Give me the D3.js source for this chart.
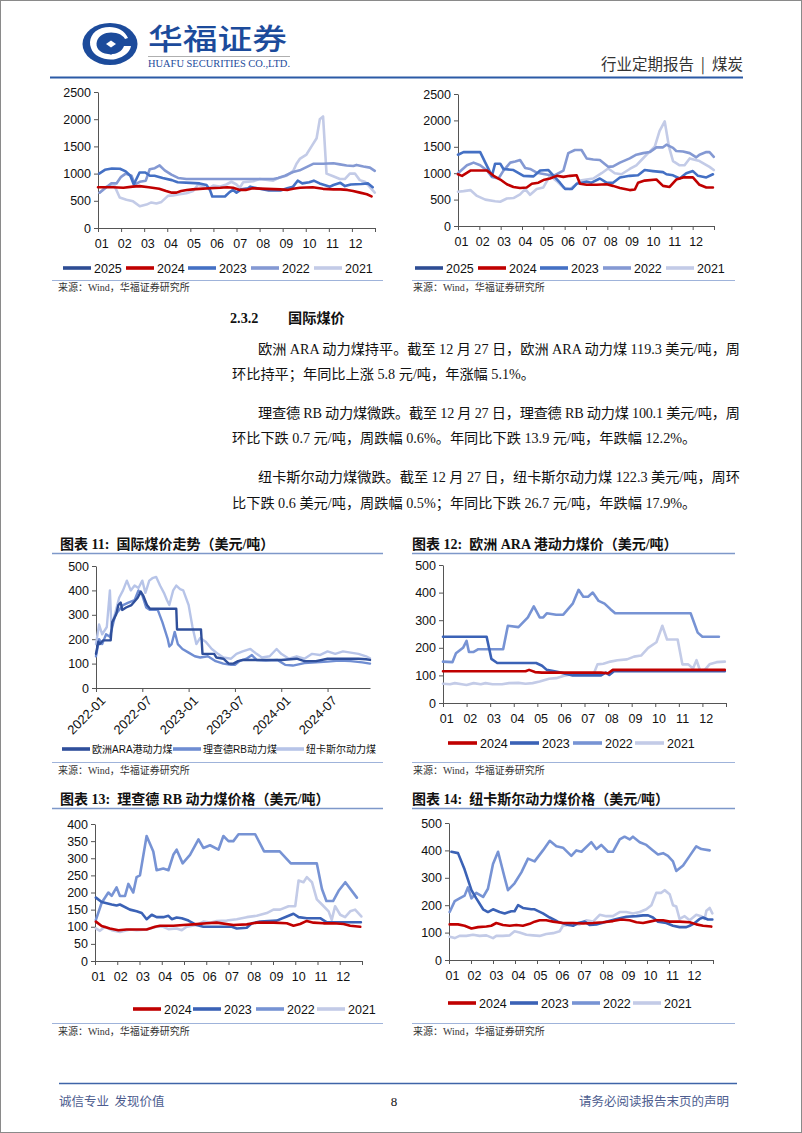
<!DOCTYPE html>
<html><head><meta charset="utf-8">
<script src="https://cdn.jsdelivr.net/npm/d3@7"></script>
<style>body{margin:0;background:#fff}svg{display:block}</style></head>
<body><svg id="page" width="802" height="1133"></svg>
<script>
// ---------------- DATA ----------------
const monthLabels = ["01","02","03","04","05","06","07","08","09","10","11","12"];
const yearNames5 = ["2025","2024","2023","2022","2021"];
const yearNames4 = ["2024","2023","2022","2021"];
const intlNames = ["欧洲ARA港动力煤","理查德RB动力煤","纽卡斯尔动力煤"];
const intlDateLabels = ["2022-01","2022-07","2023-01","2023-07","2024-01","2024-07"];
const intlDateMonths = [0,6,12,18,24,30];

// top-left chart (x = month of year, 0 = Jan 1)
const tl2025 = [];
const tl2024 = [[0,750],[0.65,750],[1.1,740],[1.5,760],[1.8,770],[2.2,750],[2.65,720],[2.95,680],[3.2,650],[3.4,650],[3.6,680],[3.85,700],[4.1,710],[4.4,720],[4.85,730],[5.3,740],[5.6,750],[5.85,740],[6.15,700],[6.4,700],[6.7,730],[7.3,720],[7.9,710],[8.2,700],[8.45,720],[8.75,740],[9.3,750],[9.75,720],[10.2,710],[10.5,710],[10.8,700],[11.05,680],[11.35,650],[11.65,620],[11.85,580]];
const tl2023 = [[0.05,1000],[0.3,1070],[0.6,1095],[0.95,1090],[1.2,1040],[1.4,960],[1.55,800],[1.8,1020],[2.05,1020],[2.25,960],[2.45,960],[2.8,920],[3.2,880],[3.45,840],[4.0,830],[4.4,820],[4.7,790],[4.85,700],[4.95,580],[5.5,580],[5.7,660],[5.85,700],[6.0,650],[6.2,710],[6.5,730],[6.6,760],[7.0,720],[7.4,690],[7.9,690],[8.2,730],[8.45,760],[8.65,870],[8.85,820],[9.15,840],[9.35,870],[9.6,820],[10.05,760],[10.2,790],[10.5,830],[10.7,770],[10.95,800],[11.4,810],[11.7,820],[11.9,750]];
const tl2022 = [[0.07,650],[0.36,750],[0.58,820],[0.8,820],[1.0,940],[1.2,1000],[1.45,960],[1.6,800],[1.81,850],[2.07,870],[2.24,1080],[2.46,1100],[2.67,1150],[2.89,1060],[3.18,980],[3.47,920],[3.83,900],[4.4,900],[7.6,900],[7.8,920],[8.1,960],[8.45,1030],[8.74,1060],[9.03,1120],[9.32,1180],[9.75,1180],[10.2,1190],[10.48,1170],[10.77,1150],[11.06,1140],[11.2,1160],[11.5,1130],[11.78,1110],[11.99,1050]];
const tl2021 = [[0.07,650],[0.36,760],[0.72,770],[0.94,560],[1.23,520],[1.52,490],[1.81,400],[2.1,430],[2.31,470],[2.53,450],[2.75,480],[3.03,590],[3.25,600],[3.54,620],[3.83,640],[4.12,680],[4.34,800],[4.55,760],[4.77,720],[4.99,780],[5.27,760],[5.56,800],[5.78,850],[6.0,800],[6.14,740],[6.29,840],[6.72,860],[7.01,900],[7.59,870],[7.88,930],[8.17,960],[8.46,1050],[8.6,1180],[8.74,1270],[9.03,1350],[9.25,1500],[9.47,1650],[9.61,2000],[9.75,2050],[9.9,1000],[10.19,950],[10.48,900],[10.69,900],[10.91,1000],[11.13,1000],[11.34,880],[11.56,850],[11.78,750],[11.99,650]];

// top-right chart
const tr2025 = [];
const tr2024 = [[0,980],[0.19,950],[0.58,1050],[1.36,1050],[1.67,950],[1.98,880],[2.29,790],[2.6,740],[2.91,720],[3.22,730],[3.46,800],[3.77,820],[4.0,870],[4.31,900],[4.63,950],[4.94,930],[5.25,950],[5.56,960],[5.72,800],[6.03,780],[6.5,780],[6.96,790],[7.27,760],[7.59,720],[8.05,680],[8.29,690],[8.44,820],[8.75,860],[9.3,880],[9.61,760],[9.92,740],[10.23,880],[10.55,920],[11.01,920],[11.32,780],[11.64,730],[11.95,730]];
const tr2023 = [[0,1350],[0.26,1400],[1.04,1400],[1.28,1200],[1.59,950],[1.74,1180],[1.98,1180],[2.13,1080],[2.6,1060],[3.07,950],[3.54,940],[3.85,1050],[4.24,1060],[4.55,920],[4.78,820],[5.02,700],[5.33,700],[5.56,800],[6.03,840],[6.26,820],[6.65,900],[6.96,820],[7.27,820],[7.59,920],[8.05,950],[8.44,960],[8.75,1060],[9.14,1040],[9.61,1020],[9.77,980],[10.08,960],[10.39,900],[10.7,1000],[11.01,1040],[11.25,950],[11.64,920],[11.95,980]];
const tr2022 = [[0,1000],[0.42,1150],[0.73,1200],[1.04,1150],[1.36,1050],[1.59,930],[1.9,900],[2.13,1050],[2.45,1200],[2.68,1220],[2.91,1250],[3.15,1100],[3.38,1080],[3.69,1010],[4.08,980],[4.47,950],[4.94,1050],[5.17,1380],[5.48,1440],[5.79,1440],[6.03,1280],[6.34,1260],[6.65,1250],[7.04,1120],[7.27,1130],[7.59,1200],[8.05,1280],[8.36,1350],[8.68,1380],[8.99,1400],[9.3,1490],[9.61,1490],[9.77,1540],[10.08,1480],[10.23,1420],[10.55,1410],[10.86,1380],[11.17,1300],[11.32,1350],[11.64,1400],[11.79,1400],[11.99,1310]];
const tr2021 = [[0,650],[0.26,660],[0.58,680],[0.89,570],[1.28,500],[1.74,470],[1.98,460],[2.29,520],[2.6,530],[2.91,600],[3.15,700],[3.38,590],[3.69,700],[4.0,730],[4.31,950],[4.63,850],[4.94,730],[5.25,700],[5.48,770],[5.72,860],[6.03,880],[6.34,900],[6.73,1000],[7.04,1090],[7.35,1000],[7.66,980],[8.05,1080],[8.36,1150],[8.6,1250],[8.91,1380],[9.22,1500],[9.45,1800],[9.69,1980],[9.89,1500],[10.08,1230],[10.39,1150],[10.62,1150],[10.86,1280],[11.32,1230],[11.79,1120],[11.99,1060]];

// chart 11 (x = months since 2022-01)
const araPrice = [[0,140],[0.3,190],[0.5,180],[0.9,195],[1.9,195],[2.1,270],[2.6,300],[2.9,340],[3.2,350],[3.4,320],[3.9,330],[4.6,340],[5.4,370],[5.8,395],[6.1,380],[6.6,340],[7.0,325],[10.4,325],[10.5,240],[13.6,240],[13.8,140],[15.3,140],[15.6,125],[16.5,120],[17.2,100],[17.8,100],[18.4,110],[19.0,115],[24.0,115],[26.0,120],[27.0,110],[28.5,110],[30.0,120],[34.0,120],[35.0,118],[35.5,115]];
const rbPrice = [[0,130],[0.4,200],[0.8,180],[1.3,220],[1.8,210],[2.5,300],[3.0,320],[3.5,340],[4.2,350],[5.0,360],[5.5,400],[6.0,380],[6.5,330],[7.0,320],[8.0,320],[8.6,270],[9.3,200],[9.5,170],[9.8,180],[10.2,230],[10.6,180],[11.2,160],[12.0,145],[12.8,130],[13.5,125],[14.5,130],[15.5,110],[16.5,100],[17.5,95],[18.0,95],[18.6,110],[19.5,120],[20.2,135],[20.8,115],[22.0,112],[23.5,115],[24.5,95],[25.5,92],[27.0,102],[28.5,105],[30.0,108],[31.5,112],[33.0,110],[34.5,105],[35.5,100]];
const newcPrice = [[0,180],[0.4,260],[0.8,220],[1.4,250],[1.8,400],[2.0,250],[2.6,320],[3.0,370],[3.5,400],[4.0,440],[4.5,400],[5.0,420],[5.5,410],[6.0,440],[6.4,390],[6.9,440],[7.3,450],[7.8,455],[8.3,420],[8.8,390],[9.2,360],[9.5,340],[10.0,400],[10.4,420],[10.9,405],[11.3,400],[12.0,340],[12.5,250],[13.0,180],[13.5,205],[14.2,190],[15.0,160],[15.8,140],[16.5,125],[17.5,120],[18.2,140],[19.0,150],[20.0,160],[20.8,140],[21.5,125],[22.5,130],[23.4,160],[24.0,140],[25.0,120],[26.0,130],[27.0,120],[28.0,140],[29.0,135],[30.0,150],[31.0,140],[32.0,150],[33.0,145],[34.0,140],[35.0,130],[35.5,122]];

// chart 12 ARA
const ara2024 = [[0,115],[3.5,115],[3.65,120],[3.9,112],[4.2,110],[6.7,110],[7.0,108],[7.2,120],[11.95,120]];
const ara2023 = [[0,240],[1.85,240],[2.05,160],[2.3,145],[3.95,145],[4.2,135],[4.4,120],[5.0,110],[5.5,100],[6.7,100],[6.9,110],[7.05,102],[7.25,115],[11.95,115]];
const ara2022 = [[0,150],[0.4,148],[0.55,180],[0.85,200],[1.0,225],[1.1,185],[1.3,185],[1.5,195],[2.55,195],[2.75,280],[3.2,275],[3.6,310],[3.85,350],[4.1,310],[4.25,310],[4.4,325],[4.8,320],[5.1,320],[5.3,340],[5.5,360],[5.75,410],[5.95,385],[6.15,385],[6.35,400],[6.6,370],[6.85,360],[7.1,340],[7.3,325],[10.5,325],[10.8,255],[11.0,240],[11.7,240]];
const ara2021 = [[0,70],[0.3,68],[0.5,72],[0.8,68],[1.0,65],[1.3,72],[1.6,68],[1.8,72],[2.1,68],[2.5,68],[2.8,72],[3.2,73],[3.5,70],[3.8,72],[4.1,78],[4.5,88],[4.8,90],[5.1,98],[5.5,105],[6.0,108],[6.4,108],[6.55,140],[6.8,142],[7.1,150],[7.4,155],[7.8,158],[8.1,168],[8.4,172],[8.7,200],[9.05,220],[9.3,280],[9.5,230],[9.95,230],[10.15,140],[10.4,140],[10.6,125],[10.75,155],[10.9,118],[11.1,120],[11.3,140],[11.6,148],[11.95,150]];

// chart 13 RB
const rb2024 = [[0.04,115],[0.3,102],[0.67,95],[1.05,90],[1.42,92],[1.8,92],[2.32,92],[2.7,100],[2.92,103],[3.52,103],[3.97,105],[4.42,107],[5.02,110],[5.47,112],[6.22,105],[6.82,107],[7.27,112],[8.02,112],[8.62,110],[8.92,103],[9.22,108],[9.52,117],[9.82,112],[10.27,110],[10.72,110],[11.17,108],[11.47,103],[11.92,100]];
const rb2023 = [[0.04,185],[0.3,172],[0.75,165],[0.97,162],[1.12,165],[1.57,150],[1.87,145],[2.1,140],[2.32,122],[2.55,135],[2.77,128],[3.07,128],[3.3,132],[3.45,122],[3.67,127],[3.9,125],[4.2,118],[4.57,105],[4.87,100],[5.47,100],[6.15,100],[6.37,95],[6.82,97],[7.05,110],[7.42,115],[8.17,118],[8.62,130],[8.92,138],[9.15,128],[9.52,125],[10.12,125],[10.42,113],[11.95,113]];
const rb2022 = [[0.04,120],[0.3,170],[0.6,200],[0.75,190],[0.97,215],[1.12,190],[1.35,190],[1.5,225],[1.72,200],[1.87,245],[2.02,250],[2.32,365],[2.62,320],[2.77,265],[3.07,270],[3.3,265],[3.52,310],[3.67,325],[3.94,285],[4.27,310],[4.65,355],[4.87,330],[5.17,338],[5.55,325],[5.77,365],[6.0,350],[6.22,350],[6.45,370],[7.2,370],[7.6,320],[8.3,320],[8.8,285],[9.97,285],[10.2,210],[10.4,175],[10.7,175],[10.95,205],[11.25,230],[11.77,185]];
const rb2021 = [[0.04,95],[0.22,88],[0.45,100],[0.75,90],[1.12,85],[1.57,92],[1.87,90],[2.32,92],[2.77,100],[3.07,100],[3.3,93],[3.67,95],[3.9,90],[4.12,100],[4.57,105],[4.87,115],[5.17,112],[5.47,117],[5.92,118],[6.37,122],[6.82,128],[7.27,132],[7.72,140],[8.02,150],[8.32,150],[8.7,160],[9.0,160],[9.15,235],[9.37,230],[9.52,245],[9.75,230],[9.97,180],[10.2,165],[10.5,145],[10.64,120],[10.79,160],[11.02,135],[11.24,128],[11.47,145],[11.69,150],[11.97,130]];

// chart 14 Newcastle
const nc2024 = [[0.03,130],[0.41,130],[0.71,125],[1.02,115],[1.32,120],[1.7,122],[1.92,125],[2.15,135],[2.45,128],[2.76,125],[3.06,128],[3.36,125],[3.67,132],[3.89,140],[4.12,145],[4.42,145],[4.73,140],[5.18,135],[5.64,135],[6.09,133],[6.55,135],[7.0,138],[7.45,142],[7.83,148],[8.21,145],[8.52,138],[8.82,135],[9.12,140],[9.42,145],[9.73,145],[10.03,140],[10.48,140],[10.94,138],[11.24,130],[11.55,125],[11.92,122]];
const nc2023 = [[0.11,395],[0.41,390],[0.71,330],[1.02,255],[1.24,225],[1.55,185],[1.77,175],[2.0,185],[2.3,175],[2.53,170],[2.83,178],[2.98,178],[3.14,200],[3.36,190],[3.74,185],[3.89,185],[4.27,170],[4.58,155],[4.95,140],[5.33,130],[5.64,125],[5.86,135],[6.17,140],[6.39,128],[6.7,130],[7.15,140],[7.61,150],[8.06,158],[8.52,160],[8.82,163],[9.05,163],[9.27,155],[9.5,140],[9.88,135],[10.18,125],[10.48,120],[10.79,120],[10.94,125],[11.17,135],[11.39,150],[11.55,155],[11.77,148],[11.97,148]];
const nc2022 = [[0.03,175],[0.26,215],[0.48,225],[0.71,235],[0.86,265],[1.02,225],[1.24,245],[1.55,230],[1.77,260],[2.0,350],[2.23,395],[2.53,300],[2.68,255],[2.98,280],[3.29,320],[3.59,370],[3.89,360],[4.27,400],[4.58,435],[4.88,415],[5.18,410],[5.56,380],[5.79,400],[6.02,395],[6.47,430],[6.7,405],[6.92,420],[7.23,395],[7.45,395],[7.76,440],[7.98,450],[8.21,440],[8.36,450],[8.67,430],[8.97,420],[9.27,400],[9.5,385],[9.73,390],[9.95,380],[10.18,360],[10.33,325],[10.64,345],[10.94,380],[11.24,415],[11.47,405],[11.85,400]];
const nc2021 = [[0.03,85],[0.26,80],[0.48,88],[0.79,88],[1.09,92],[1.39,88],[1.7,90],[2.0,80],[2.15,88],[2.45,88],[2.76,90],[2.98,105],[3.21,100],[3.52,92],[3.82,90],[4.12,88],[4.42,95],[4.73,98],[5.03,105],[5.18,125],[5.64,130],[5.94,130],[6.24,145],[6.55,140],[6.85,165],[7.15,160],[7.45,160],[7.76,175],[8.06,175],[8.36,170],[8.67,175],[8.97,185],[9.2,200],[9.42,245],[9.65,245],[9.8,255],[10.03,240],[10.18,200],[10.33,195],[10.48,150],[10.71,160],[10.94,145],[11.24,165],[11.47,160],[11.62,150],[11.7,180],[11.85,190],[11.97,170]];

// ---------------- DRAWING ----------------
const svg = d3.select("#page");
svg.append("rect").attr("x",0.5).attr("y",0.5).attr("width",801).attr("height",1132).attr("fill","#fff").attr("stroke","#8a8a8a");

const C = {y25:"#2e4d94", y24:"#c00000", y23:"#4470c4", y22:"#8499d3", y21:"#c3cbe7",
           d23:"#3b62b6", m22:"#7793d4",
           ara:"#2f4f9b", rb:"#6f8dd2", nc:"#b7c4e8", blue:"#1c4b9b"};
const SANS = "'Liberation Sans', Arial, 'Noto Sans CJK SC', sans-serif";
const SERIF = "'Liberation Serif', 'Times New Roman', 'Noto Sans CJK SC', serif";
const CJK = "'Noto Sans CJK SC', sans-serif";

// header
const logo = svg.append("g");
logo.append("ellipse").attr("cx",110).attr("cy",44).attr("rx",27.5).attr("ry",21).attr("fill",C.blue);
logo.append("path").attr("d","M128,38 C124,28 112,25 102,28 C92,31 88,40 91,48 C94,57 106,61 116,59 C124,57 130,52 131,46 L124,46 C122,52 115,55 108,54 C99,53 95,47 97,41 C99,34 108,31 116,33 C121,34 124,37 125,39 Z").attr("fill","#fff");
logo.append("path").attr("d","M111,35 L123,44 L111,53 L99,44 Z").attr("fill",C.blue).attr("stroke",C.blue).attr("stroke-width",3).attr("stroke-linejoin","round");
logo.append("path").attr("d","M111,40.5 L116,44 L111,47.5 L106,44 Z").attr("fill","#fff");
svg.append("text").text("华福证券").attr("x",0).attr("y",0)
  .attr("transform","translate(148,50) scale(1.2,1)")
  .attr("font-family",CJK).attr("font-size",29).attr("font-weight",500).attr("fill",C.blue);
svg.append("line").attr("x1",148).attr("x2",290).attr("y1",56.5).attr("y2",56.5).attr("stroke","#9a9a9a").attr("stroke-width",0.8);
svg.append("text").text("HUAFU SECURITIES CO.,LTD.").attr("x",148).attr("y",67)
  .attr("font-family",SERIF).attr("font-size",10.5).attr("fill",C.blue).attr("textLength",142).attr("lengthAdjust","spacingAndGlyphs");
svg.append("text").text("行业定期报告  |  煤炭").attr("x",743).attr("y",70).attr("text-anchor","end").attr("xml:space","preserve")
  .attr("font-family",CJK).attr("font-size",15.5).attr("fill","#333");
svg.append("line").attr("x1",50).attr("x2",743).attr("y1",77.5).attr("y2",77.5).attr("stroke","#2b5aa6").attr("stroke-width",2);

// footer
svg.append("line").attr("x1",59).attr("x2",737).attr("y1",1083.5).attr("y2",1083.5).attr("stroke","#3e64a8").attr("stroke-width",1.5);
svg.append("text").text("诚信专业  发现价值").attr("x",59).attr("y",1106).attr("font-family",CJK).attr("font-size",12.5).attr("fill","#4d5d8f").attr("xml:space","preserve");
svg.append("text").text("8").attr("x",394).attr("y",1106).attr("text-anchor","middle").attr("font-family",SERIF).attr("font-size",13).attr("fill","#111");
svg.append("text").text("请务必阅读报告末页的声明").attr("x",729).attr("y",1106).attr("text-anchor","end").attr("font-family",CJK).attr("font-size",12.5).attr("fill","#4d5d8f");

// body text
const body = svg.append("g").attr("font-family",SERIF).attr("font-size",14.2).attr("fill","#111");
body.append("text").text("2.3.2").attr("x",230).attr("y",323).attr("font-weight","bold");
body.append("text").text("国际煤价").attr("x",288).attr("y",323).attr("font-weight","bold").attr("font-family",CJK);
const lines = [
  {t:"欧洲 ARA 动力煤持平。截至 12 月 27 日，欧洲 ARA 动力煤 119.3 美元/吨，周", x:258, y:354, w:482},
  {t:"环比持平；年同比上涨 5.8 元/吨，年涨幅 5.1%。", x:232, y:379},
  {t:"理查德 RB 动力煤微跌。截至 12 月 27 日，理查德 RB 动力煤 100.1 美元/吨，周", x:258, y:418, w:482},
  {t:"环比下跌 0.7 元/吨，周跌幅 0.6%。年同比下跌 13.9 元/吨，年跌幅 12.2%。", x:232, y:443},
  {t:"纽卡斯尔动力煤微跌。截至 12 月 27 日，纽卡斯尔动力煤 122.3 美元/吨，周环", x:258, y:482, w:482},
  {t:"比下跌 0.6 美元/吨，周跌幅 0.5%；年同比下跌 26.7 元/吨，年跌幅 17.9%。", x:232, y:508}
];
lines.forEach(l=>{
  const t = body.append("text").text(l.t).attr("x",l.x).attr("y",l.y);
  if(l.w) t.attr("textLength",l.w).attr("lengthAdjust","spacing");
});

// titles & sources
function titleBlock(text, x, y, lx0, lx1, ly){
  svg.append("text").text(text).attr("x",x).attr("y",y).attr("xml:space","preserve").attr("font-family",SERIF).attr("font-weight","bold").attr("font-size",14).attr("fill","#111");
  svg.append("line").attr("x1",lx0).attr("x2",lx1).attr("y1",ly).attr("y2",ly).attr("stroke","#7e98c9").attr("stroke-width",1.5);
}
function sourceBlock(x0,x1,ly,tx,ty){
  svg.append("line").attr("x1",x0).attr("x2",x1).attr("y1",ly).attr("y2",ly).attr("stroke","#9fb3da").attr("stroke-width",1);
  svg.append("text").text("来源：Wind，华福证券研究所").attr("x",tx).attr("y",ty).attr("font-family",SERIF).attr("font-size",10).attr("fill","#333");
}
titleBlock("图表 11:  国际煤价走势（美元/吨）",60,549,52,383,553.5);
titleBlock("图表 12:  欧洲 ARA 港动力煤价（美元/吨）",412,549,412,735,553.5);
titleBlock("图表 13:  理查德 RB 动力煤价格（美元/吨）",60,804,52,383,808.5);
titleBlock("图表 14:  纽卡斯尔动力煤价格（美元/吨）",412,804,412,735,808.5);
sourceBlock(52,383,280.5,58,291);
sourceBlock(412,735,280.5,413,291);
sourceBlock(52,383,762.5,58,774);
sourceBlock(412,735,762.5,413,774);
sourceBlock(52,383,1023.5,58,1035);
sourceBlock(412,735,1023.5,413,1035);

// generic chart
function drawChart(o){
  const g = svg.append("g");
  const x = d3.scaleLinear().domain(o.xdom).range([o.x0,o.x1]);
  const y = d3.scaleLinear().domain([0,o.ymax]).range([o.yb,o.yt]);
  // y axis
  const ya = g.append("g").attr("transform",`translate(${o.x0},0)`)
    .call(d3.axisLeft(y).tickValues(d3.range(0,o.ymax+0.001,o.ystep)).tickFormat(d3.format("d")).tickSize(4).tickPadding(3).tickSizeOuter(0));
  ya.selectAll("text").attr("font-family",SANS).attr("font-size",o.fs||12.5).attr("fill","#111");
  ya.selectAll("line,path").attr("stroke","#555");
  // x axis
  const xa = g.append("g").attr("transform",`translate(0,${o.yb})`)
    .call(d3.axisBottom(x).tickValues(o.xticks).tickSize(4).tickSizeOuter(0).tickFormat(""));
  xa.selectAll("line,path").attr("stroke","#555");
  if(o.rotLabels){
    o.rotLabels.forEach((lab,i)=>{
      g.append("text").text(lab).attr("text-anchor","end")
        .attr("transform",`translate(${x(o.rotTicks[i])+4},${o.yb+7}) rotate(-45)`)
        .attr("font-family",SANS).attr("font-size",13).attr("fill","#111").attr("dy","0.7em");
    });
  } else {
    monthLabels.forEach((lab,i)=>{
      g.append("text").text(lab).attr("x",x(i+0.16)).attr("y",o.yb+20).attr("text-anchor","middle")
        .attr("font-family",SANS).attr("font-size",o.fs||12.5).attr("fill","#111");
    });
  }
  // series
  const line = d3.line().x(d=>x(d[0])).y(d=>y(d[1]));
  o.series.slice().reverse().forEach(s=>{
    if(!s.data.length) return;
    g.append("path").datum(s.data).attr("d",line).attr("fill","none")
      .attr("stroke",s.color).attr("stroke-width",o.lw||2.6).attr("stroke-linejoin","round").attr("stroke-linecap","round");
  });
  // legend
  o.series.forEach((s,i)=>{
    const lx = o.legX[i];
    g.append("line").attr("x1",lx).attr("x2",lx+(o.legLen||28)).attr("y1",o.legY).attr("y2",o.legY)
      .attr("stroke",s.color).attr("stroke-width",3.6);
    g.append("text").text(s.name).attr("x",lx+(o.legLen||28)+(o.legGap||3)).attr("y",o.legY).attr("dy","0.36em")
      .attr("font-family",SANS).attr("font-size",o.legFs||12.5).attr("fill","#111");
  });
}

const monthTicks = d3.range(0,13);
drawChart({x0:98,x1:375,yb:228,yt:92,xdom:[0,12],ymax:2500,ystep:500,xticks:monthTicks,
  series:[{name:yearNames5[0],data:tl2025,color:C.y25},{name:yearNames5[1],data:tl2024,color:C.y24},
          {name:yearNames5[2],data:tl2023,color:C.y23},{name:yearNames5[3],data:tl2022,color:C.y22},
          {name:yearNames5[4],data:tl2021,color:C.y21}],
  legY:268, legX:[63,126,188,251,314]});
drawChart({x0:458,x1:714,yb:226,yt:94,xdom:[0,12],ymax:2500,ystep:500,xticks:monthTicks,
  series:[{name:yearNames5[0],data:tr2025,color:C.y25},{name:yearNames5[1],data:tr2024,color:C.y24},
          {name:yearNames5[2],data:tr2023,color:C.y23},{name:yearNames5[3],data:tr2022,color:C.y22},
          {name:yearNames5[4],data:tr2021,color:C.y21}],
  legY:268, legX:[415,478,540,603,666]});
drawChart({x0:96,x1:370,yb:688,yt:566,xdom:[0,35.5],ymax:500,ystep:100,xticks:intlDateMonths,
  rotLabels:intlDateLabels, rotTicks:intlDateMonths, lw:2.4,
  series:[{name:intlNames[0],data:araPrice,color:C.ara},{name:intlNames[1],data:rbPrice,color:C.rb},
          {name:intlNames[2],data:newcPrice,color:C.nc}],
  legY:749, legX:[62,173,276], legFs:10, legGap:2});
drawChart({x0:443,x1:726,yb:703,yt:565,xdom:[0,12],ymax:500,ystep:100,xticks:monthTicks,
  series:[{name:yearNames4[0],data:ara2024,color:C.y24},{name:yearNames4[1],data:ara2023,color:C.d23},
          {name:yearNames4[2],data:ara2022,color:C.m22},{name:yearNames4[3],data:ara2021,color:C.y21}],
  legY:743, legX:[448,510,573,635], legLen:29});
drawChart({x0:95,x1:362,yb:961,yt:824,xdom:[0,12],ymax:400,ystep:50,xticks:monthTicks,
  series:[{name:yearNames4[0],data:rb2024,color:C.y24},{name:yearNames4[1],data:rb2023,color:C.d23},
          {name:yearNames4[2],data:rb2022,color:C.m22},{name:yearNames4[3],data:rb2021,color:C.y21}],
  legY:1009, legX:[133,193,256,317]});
drawChart({x0:449,x1:713,yb:960,yt:823,xdom:[0,12],ymax:500,ystep:100,xticks:monthTicks,
  series:[{name:yearNames4[0],data:nc2024,color:C.y24},{name:yearNames4[1],data:nc2023,color:C.d23},
          {name:yearNames4[2],data:nc2022,color:C.m22},{name:yearNames4[3],data:nc2021,color:C.y21}],
  legY:1003, legX:[448,510,572,633]});
</script></body></html>
